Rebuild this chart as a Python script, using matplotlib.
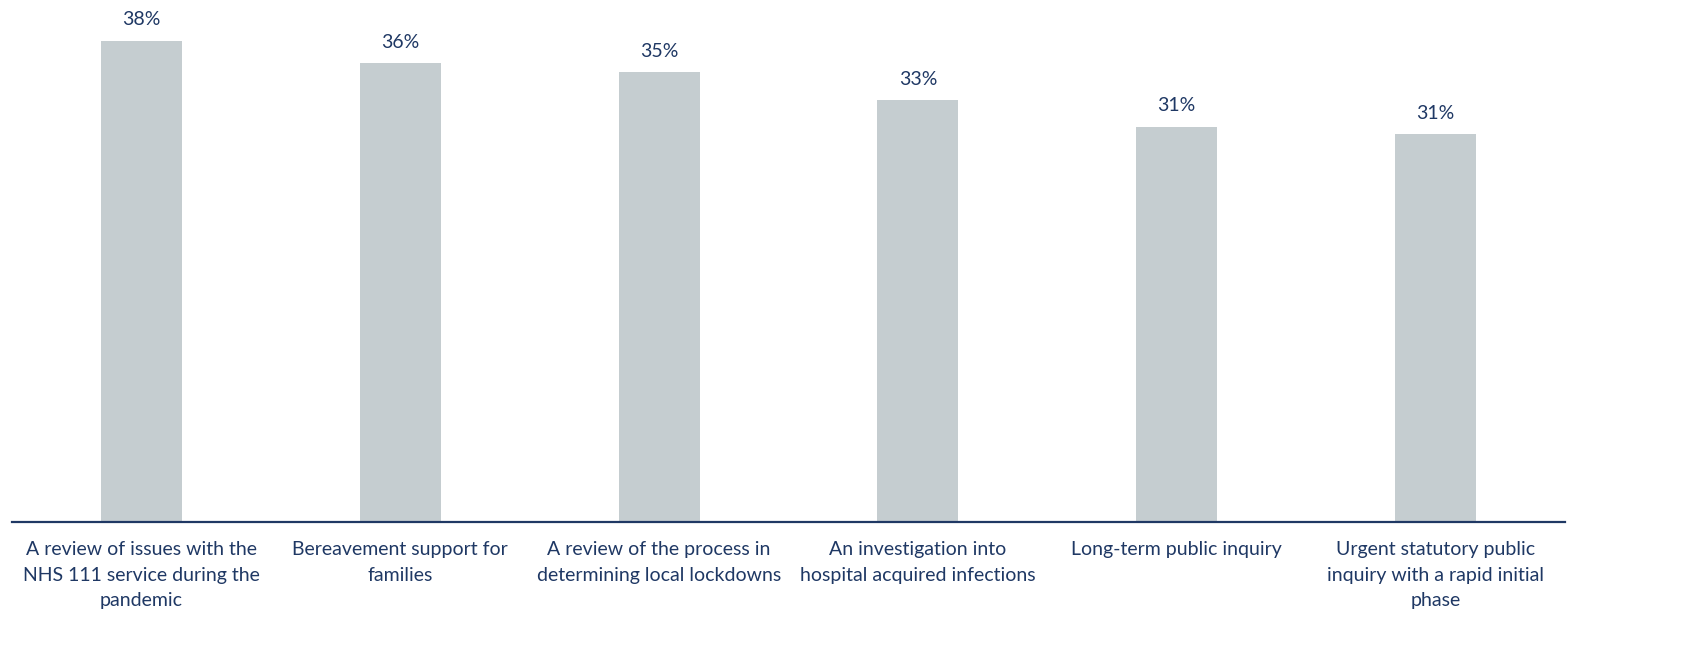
import matplotlib
matplotlib.use("Agg")
import matplotlib.pyplot as plt

categories = [
    "A review of issues with the\nNHS 111 service during the\npandemic",
    "Bereavement support for\nfamilies",
    "A review of the process in\ndetermining local lockdowns",
    "An investigation into\nhospital acquired infections",
    "Long-term public inquiry",
    "Urgent statutory public\ninquiry with a rapid initial\nphase",
]
values = [38.0, 36.2, 35.5, 33.3, 31.2, 30.6]
value_labels = ["38%", "36%", "35%", "33%", "31%", "31%"]

navy = "#1F3864"
bar_color = "#C5CDD0"

plt.rcParams['font.family'] = ['Lato', 'DejaVu Sans']

fig = plt.figure(figsize=(17.06, 6.72), dpi=100)
ax = fig.add_axes([12/1706, 150/672, (1565-12)/1706, 522/672])

x = list(range(len(categories)))
bars = ax.bar(x, values, width=0.313, color=bar_color, zorder=2)
for xi, v, lab in zip(x, values, value_labels):
    ax.annotate(lab, (xi, v), xytext=(0, 9), textcoords="offset points",
                ha="center", va="bottom", color=navy, fontsize=14)

ax.set_xlim(-0.5, len(categories) - 0.5)
ax.set_ylim(0, 41.2)
ax.set_xticks(x)
ax.set_xticklabels(categories, color=navy, fontsize=14, linespacing=1.6)
ax.tick_params(axis="x", length=0, pad=14)
ax.set_yticks([])
for s in ["top", "right", "left"]:
    ax.spines[s].set_visible(False)
ax.spines["bottom"].set_color(navy)
ax.spines["bottom"].set_linewidth(1.6)

fig.savefig("out.png", dpi=100, facecolor="white")
